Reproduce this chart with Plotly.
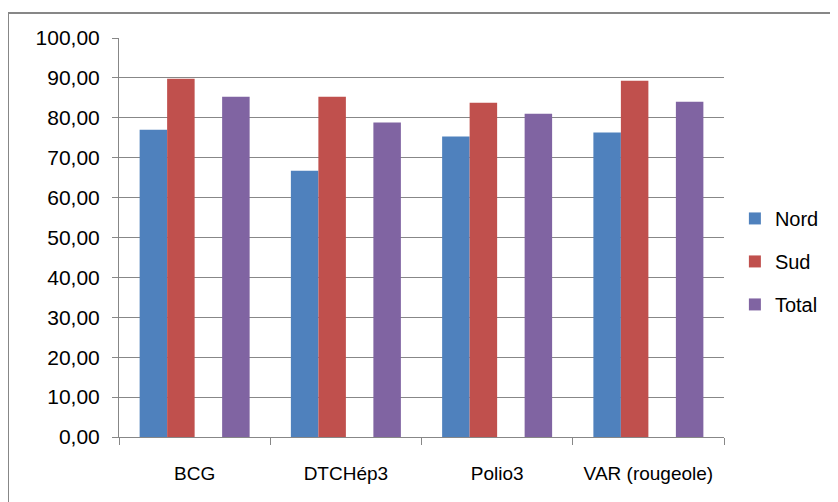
import plotly.graph_objects as go

categories = ["BCG", "DTCHép3", "Polio3", "VAR (rougeole)"]
nord = [77.0, 66.7, 75.3, 76.3]
sud = [89.8, 85.3, 83.8, 89.3]
blank = [None, None, None, None]
total = [85.3, 78.8, 81.0, 84.0]

colors = {"Nord": "#4F81BD", "Sud": "#C0504D", "Total": "#8064A2"}
FONT = "Liberation Sans"
GRID = "#878787"

fig = go.Figure()
fig.add_trace(go.Bar(x=categories, y=nord, name="Nord", marker_color=colors["Nord"],
                     legendgroup="a", marker_line_width=0))
fig.add_trace(go.Bar(x=categories, y=sud, name="Sud", marker_color=colors["Sud"],
                     legendgroup="b", marker_line_width=0))
fig.add_trace(go.Bar(x=categories, y=blank, name="", showlegend=False,
                     legendgroup="x", marker_line_width=0))
fig.add_trace(go.Bar(x=categories, y=total, name="Total", marker_color=colors["Total"],
                     legendgroup="c", marker_line_width=0))

fig.update_layout(
    width=830, height=494,
    margin=dict(l=111, r=114, t=30, b=65),
    paper_bgcolor="white", plot_bgcolor="white",
    barmode="group", bargap=1.5 / 5.5, bargroupgap=0,
    separators=", ",
    font=dict(family=FONT, color="black"),
    legend=dict(x=1.018, xanchor="left", y=0.44, yanchor="middle",
                font=dict(size=20, family=FONT), tracegroupgap=14,
                itemwidth=30),
    showlegend=True,
)
fig.update_yaxes(range=[0, 100], dtick=10, tickformat=".2f",
                 showgrid=True, gridcolor=GRID, gridwidth=1,
                 showline=True, linecolor=GRID, linewidth=1,
                 ticks="outside", ticklen=6, tickcolor=GRID,
                 tickfont=dict(size=21, family=FONT), ticklabelstandoff=8,
                 zeroline=False)
fig.update_xaxes(type="category", tickson="boundaries",
                 showgrid=False, showline=True, linecolor=GRID, linewidth=1,
                 ticks="outside", ticklen=7, tickcolor=GRID,
                 tickfont=dict(size=19, family=FONT), ticklabelstandoff=19)

fig.add_shape(type="rect", xref="paper", yref="paper",
              x0=(8 - 119) / 605, x1=(860 - 119) / 605,
              y0=(437 - 520) / 399, y1=(437 - 13) / 399,
              line=dict(color=GRID, width=2), fillcolor="rgba(0,0,0,0)", layer="below")

fig.write_html("out.html")
